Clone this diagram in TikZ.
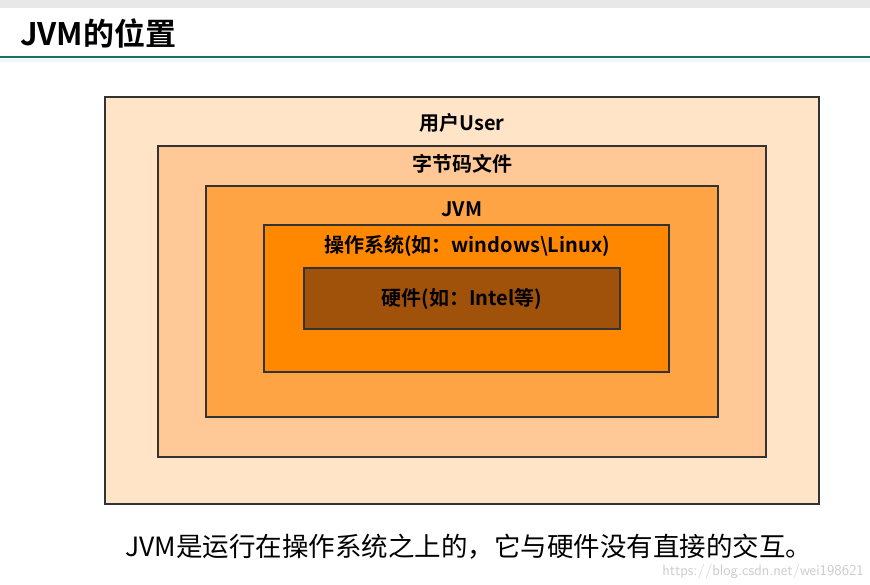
\documentclass[tikz,border=0pt]{standalone}
\usepackage{fontspec}
\setmainfont{Liberation Serif}
\newfontfamily\cjk{Noto Sans CJK SC}
\newfontfamily\cjkb{Noto Sans CJK SC Bold}
\begin{document}
\begin{tikzpicture}[x=1pt,y=-1pt,
  lay/.style={draw=black!80,line width=1.2pt},
  lbl/.style={font=\cjkb\fontsize{20}{22}\selectfont,inner sep=0pt}]
\useasboundingbox (0,0) rectangle (870,584);
\fill[gray!18] (0,0) rectangle (870,8);
\fill[white] (0,8) rectangle (870,584);
\fill[cyan!8] (0,59) rectangle (870,62);
\draw[color={rgb,255:red,30;green,110;blue,100},line width=2.5pt] (0,57) -- (870,57);
\node[anchor=west,inner sep=0pt,font=\cjkb\fontsize{31}{34}\selectfont] (title) at (20,33) {JVM的位置};
\definecolor{c1}{RGB}{255,228,200}
\definecolor{c2}{RGB}{255,200,150}
\definecolor{c3}{RGB}{255,164,68}
\definecolor{c4}{RGB}{255,136,0}
\definecolor{c5}{RGB}{160,82,10}
\draw[lay,fill=c1] (105,97) rectangle (819,504);
\draw[lay,fill=c2] (158,146) rectangle (766,457);
\draw[lay,fill=c3] (206,186) rectangle (718,417);
\draw[lay,fill=c4] (264,225) rectangle (669,372);
\draw[lay,fill=c5] (304,268) rectangle (620,329);
\node[lbl] (u) at (462,123) {用户User};
\node[lbl] (b) at (462,164) {字节码文件};
\node[lbl] (j) at (462,209) {JVM};
\node[lbl] (o) at (467,246) {操作系统(如：windows\textbackslash Linux)};
\node[lbl] (h) at (462,299) {硬件(如：Intel等)};
\node[anchor=west,inner sep=0pt,font=\cjk\fontsize{26.5}{30}\selectfont] (note) at (125,547) {JVM是运行在操作系统之上的，它与硬件没有直接的交互。};
\node[anchor=east,inner sep=0pt,text=gray!40,font=\sffamily\fontsize{15}{17}\selectfont] (wm) at (864,572) {https://blog.csdn.net/wei198621};
\end{tikzpicture}
\end{document}
